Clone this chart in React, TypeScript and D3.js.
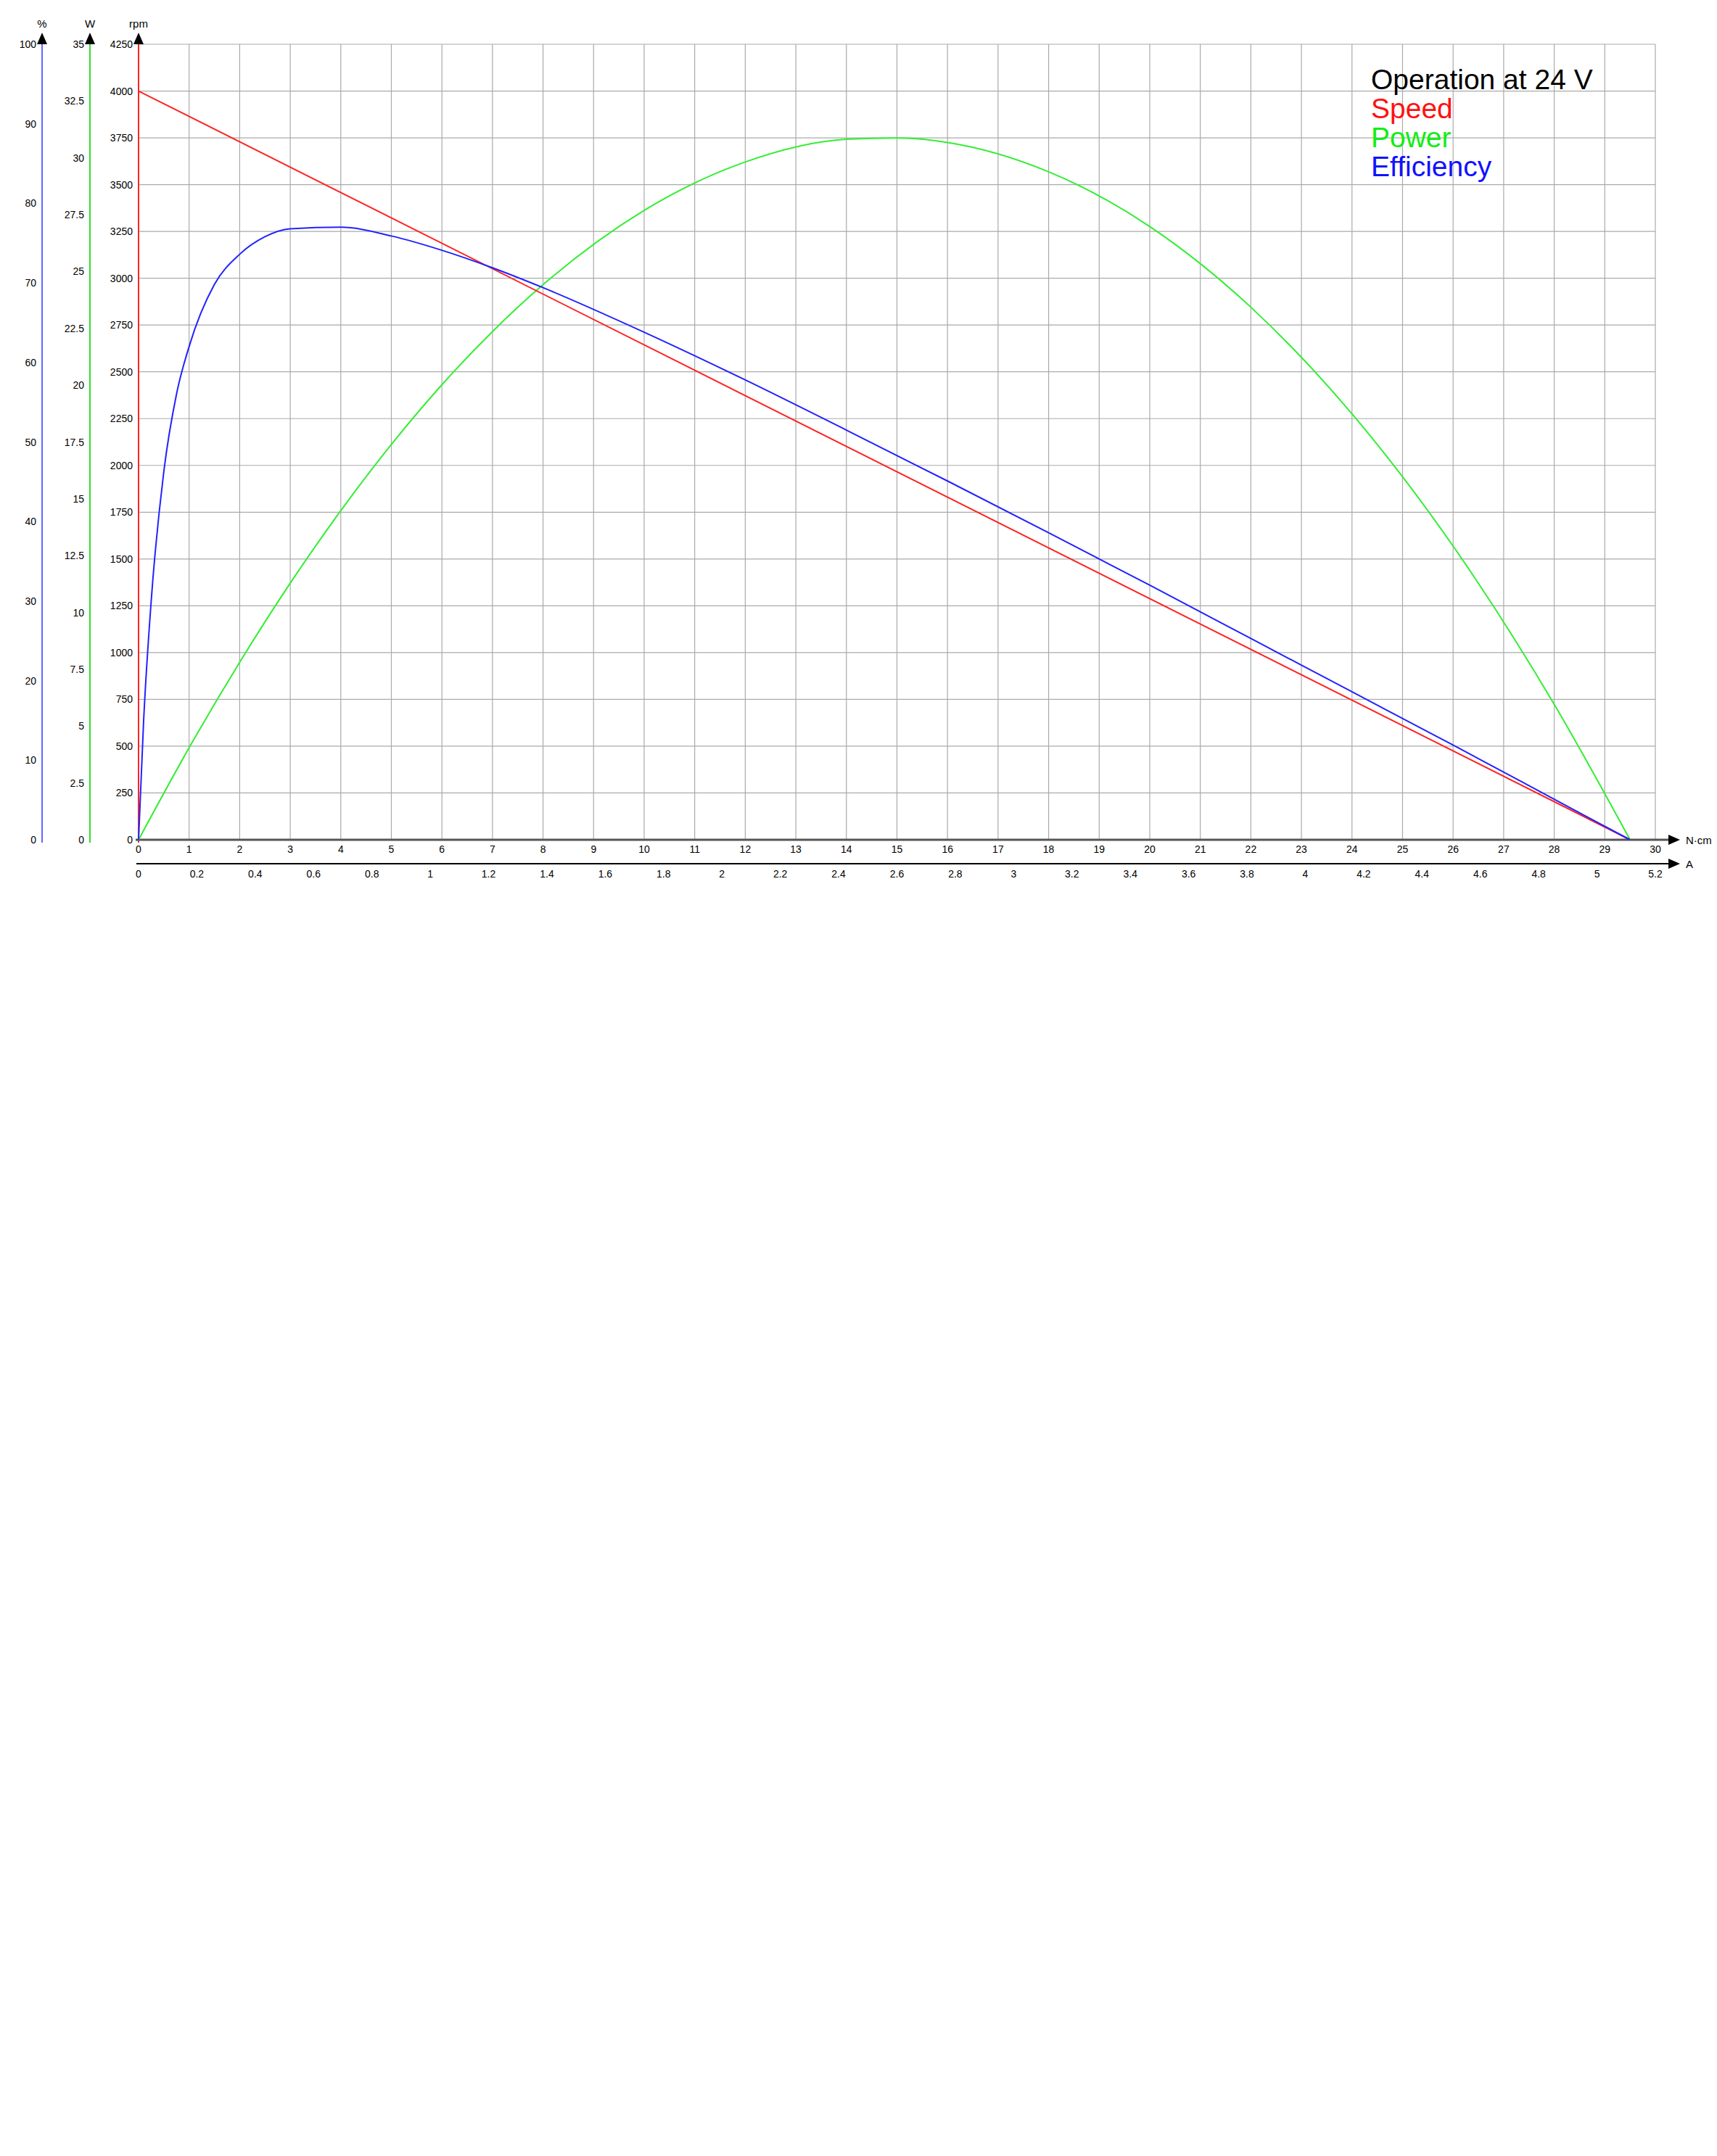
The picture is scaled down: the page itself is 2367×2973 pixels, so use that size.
import React from "react";
import * as d3 from "d3";

const speedT = [0, 29.5];
const speedRpm = [4000, 0];
const powerT = [0, 1, 2, 3, 4, 5, 6, 7, 8, 10, 12, 14, 15, 16, 18, 20, 22, 24, 26, 28, 29.5];
const powerW = [0, 4.05, 7.81, 11.29, 14.48, 17.39, 20.02, 22.36, 24.42, 27.69, 29.82, 30.82, 30.88, 30.68, 29.39, 26.98, 23.43, 18.74, 12.92, 5.96, 0];
const effT = [0, 0.1, 0.25, 0.5, 0.75, 1, 1.5, 2, 2.5, 3, 4, 5, 6, 7, 8, 10, 12, 14, 16, 18, 20, 22, 24, 26, 28, 29.5];
const effPct = [0, 14.9, 30, 46.3, 56, 62, 69.8, 73.6, 75.8, 76.8, 77, 75.9, 74.1, 71.9, 69.4, 63.8, 57.8, 51.5, 45.1, 38.6, 32, 25.3, 18.6, 11.9, 5.1, 0];
const rpmTicks = d3.range(0, 4251, 250);
const wattTicks = d3.range(0, 35.01, 2.5);
const pctTicks = d3.range(0, 101, 10);
const torqueTicks = d3.range(0, 31, 1);
const ampTicks = d3.range(0, 5.21, 0.2);

export default function App() {
  const x0 = 183, x1 = 2274, yTop = 53, yBot = 1150;
  const x = d3.scaleLinear().domain([0, 30]).range([x0, x1]);
  const xa = d3.scaleLinear().domain([0, 5.2]).range([x0, x1]);
  const yR = d3.scaleLinear().domain([0, 4250]).range([yBot, yTop]);
  const yW = d3.scaleLinear().domain([0, 35]).range([yBot, yTop]);
  const yP = d3.scaleLinear().domain([0, 100]).range([yBot, yTop]);
  const font = "Liberation Sans, Arial, sans-serif";
  const lineS = d3.line<number>().x((_, i) => x(speedT[i])).y((d) => yR(d));
  const lineP = d3.line<number>().x((_, i) => x(powerT[i])).y((d) => yW(d)).curve(d3.curveMonotoneX);
  const lineE = d3.line<number>().x((_, i) => x(effT[i])).y((d) => yP(d)).curve(d3.curveMonotoneX);
  const arrowUp = (cx: number) => `M${cx - 7},${yTop} L${cx + 7},${yTop} L${cx},${yTop - 16} Z`;
  const arrowR = (ax: number, ay: number) => `M${ax - 16},${ay - 7} L${ax - 16},${ay + 7} L${ax},${ay} Z`;
  const vAxis = (ax: number, color: string, ticks: number[], sc: any, label: string) => (
    <g>
      <line x1={ax} x2={ax} y1={yTop} y2={yBot + 4} stroke={color} strokeWidth={2} />
      <path d={arrowUp(ax)} fill="#000" />
      <text x={ax} y={30} fontSize={15} textAnchor="middle" fontFamily={font}>{label}</text>
      {ticks.map((t) => (
        <text key={t} x={ax - 8} y={sc(t) + 5} fontSize={14} textAnchor="end" fontFamily={font}>{t}</text>
      ))}
    </g>
  );
  return (
    <svg width={2367} height={2973} style={{ display: "block" }}>
      <rect width={2367} height={2973} fill="#fff" />
      {torqueTicks.slice(1).map((t) => (
        <line key={"v" + t} x1={x(t)} x2={x(t)} y1={yTop} y2={yBot} stroke="#aaa" strokeWidth={1.2} />
      ))}
      {rpmTicks.slice(1).map((t) => (
        <line key={"h" + t} x1={x0} x2={x1} y1={yR(t)} y2={yR(t)} stroke="#aaa" strokeWidth={1.2} />
      ))}
      {vAxis(50, "#6666ff", pctTicks, yP, "%")}
      {vAxis(116, "#33dd33", wattTicks, yW, "W")}
      {vAxis(183, "#ff2222", rpmTicks, yR, "rpm")}
      <line x1={x0 - 4} x2={2292} y1={yBot} y2={yBot} stroke="#555" strokeWidth={3} />
      <path d={arrowR(2308, yBot)} fill="#000" />
      <text x={2316} y={yBot + 6} fontSize={15} fontFamily={font}>N·cm</text>
      {torqueTicks.map((t) => (
        <text key={"tt" + t} x={x(t)} y={1168} fontSize={14} textAnchor="middle" fontFamily={font}>{t}</text>
      ))}
      <line x1={180} x2={2292} y1={1183} y2={1183} stroke="#000" strokeWidth={2} />
      <path d={arrowR(2308, 1183)} fill="#000" />
      <text x={2316} y={1189} fontSize={15} fontFamily={font}>A</text>
      {ampTicks.map((t) => (
        <text key={"a" + t} x={xa(t)} y={1202} fontSize={14} textAnchor="middle" fontFamily={font}>{+t.toFixed(1)}</text>
      ))}
      <path d={lineP(powerW) || ""} fill="none" stroke="#33ee33" strokeWidth={2} />
      <path d={lineS(speedRpm) || ""} fill="none" stroke="#ff2222" strokeWidth={2} />
      <path d={lineE(effPct) || ""} fill="none" stroke="#2222ff" strokeWidth={2} />
      <g fontFamily={font} fontSize={39}>
        <text x={1882} y={115} fill="#000">Operation at 24 V</text>
        <text x={1882} y={155} fill="#ff1111">Speed</text>
        <text x={1882} y={195} fill="#11ee11">Power</text>
        <text x={1882} y={235} fill="#1111ff">Efficiency</text>
      </g>
    </svg>
  );
}
